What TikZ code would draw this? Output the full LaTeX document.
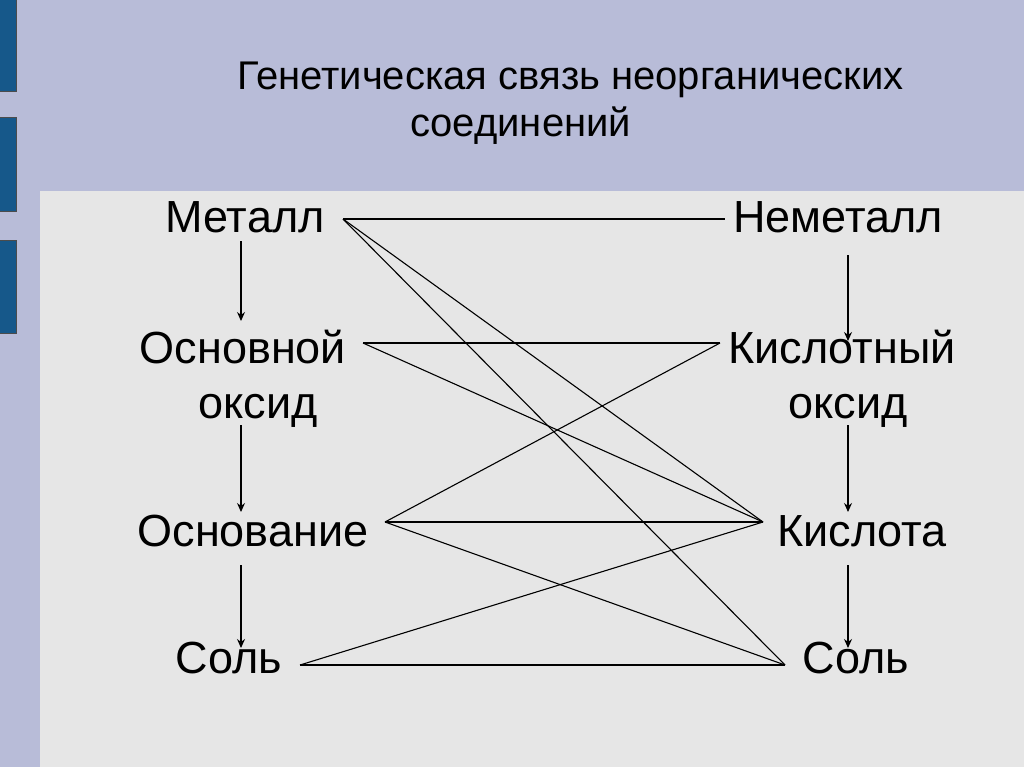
\documentclass[tikz,border=0pt]{standalone}
\usepackage{fontspec}
\setmainfont{Liberation Sans}
\usetikzlibrary{arrows.meta}
\definecolor{bgl}{RGB}{184,188,216}
\definecolor{panel}{RGB}{230,230,230}
\definecolor{barblue}{RGB}{22,88,138}
\begin{document}
\begin{tikzpicture}[x=1pt,y=-1pt,
  lbl/.style={anchor=base,font=\fontsize{45}{50}\selectfont,inner sep=0},
  ttl/.style={anchor=base west,font=\fontsize{40}{44}\selectfont,inner sep=0},
  conn/.style={line width=1.1pt,black},
  down/.style={line width=1.1pt,-{Stealth[length=9pt,width=8pt]}},
  bar/.style={fill=barblue,draw=black!70,line width=0.8pt}]
\useasboundingbox (0,0) rectangle (1024,767);
\fill[bgl] (0,0) rectangle (1024,767);
\fill[panel] (40,191) rectangle (1024,767);
\draw[bar] (-2,-2) rectangle (16,91);
\draw[bar] (-2,117) rectangle (16,211);
\draw[bar] (-2,240) rectangle (16,333);
% title
\node[ttl] (t1) at (237,90) {Генетическая связь неорганических};
\node[ttl] (t2) at (410,137) {соединений};
% labels
\node[lbl] (met) at (245,233) {Металл};
\node[lbl] (nemet) at (838,233) {Неметалл};
\node[lbl] (osn1) at (243,363) {Основной};
\node[lbl] (osn2) at (258,418) {оксид};
\node[lbl] (kis1) at (842,363) {Кислотный};
\node[lbl] (kis2) at (848,418) {оксид};
\node[lbl] (osnov) at (253,546) {Основание};
\node[lbl] (kisl) at (862,546) {Кислота};
\node[lbl] (sol1) at (229,673) {Соль};
\node[lbl] (sol2) at (856,673) {Соль};
% connector end points
\coordinate (pm) at (343,219);
\coordinate (pn) at (725,219);
\coordinate (po) at (363,343);
\coordinate (pk) at (720,343);
\coordinate (pb) at (385,522);
\coordinate (pa) at (763,522);
\coordinate (ps) at (300,665);
\coordinate (pr) at (785,665);
\draw[conn] (pm) -- (pn);
\draw[conn] (pm) -- (pa);
\draw[conn] (pm) -- (pr);
\draw[conn] (po) -- (pk);
\draw[conn] (po) -- (pa);
\draw[conn] (pb) -- (pk);
\draw[conn] (pb) -- (pa);
\draw[conn] (pb) -- (pr);
\draw[conn] (ps) -- (pa);
\draw[conn] (ps) -- (pr);
% vertical arrows
\coordinate (l1a) at (241,241); \coordinate (l1b) at (241,321);
\coordinate (l2a) at (241,425); \coordinate (l2b) at (241,512);
\coordinate (l3a) at (241,565); \coordinate (l3b) at (241,648);
\coordinate (r1a) at (848,255); \coordinate (r1b) at (848,341);
\coordinate (r2a) at (848,425); \coordinate (r2b) at (848,512);
\coordinate (r3a) at (848,565); \coordinate (r3b) at (848,648);
\draw[down] (l1a) -- (l1b);
\draw[down] (l2a) -- (l2b);
\draw[down] (l3a) -- (l3b);
\draw[down] (r1a) -- (r1b);
\draw[down] (r2a) -- (r2b);
\draw[down] (r3a) -- (r3b);
\end{tikzpicture}
\end{document}
